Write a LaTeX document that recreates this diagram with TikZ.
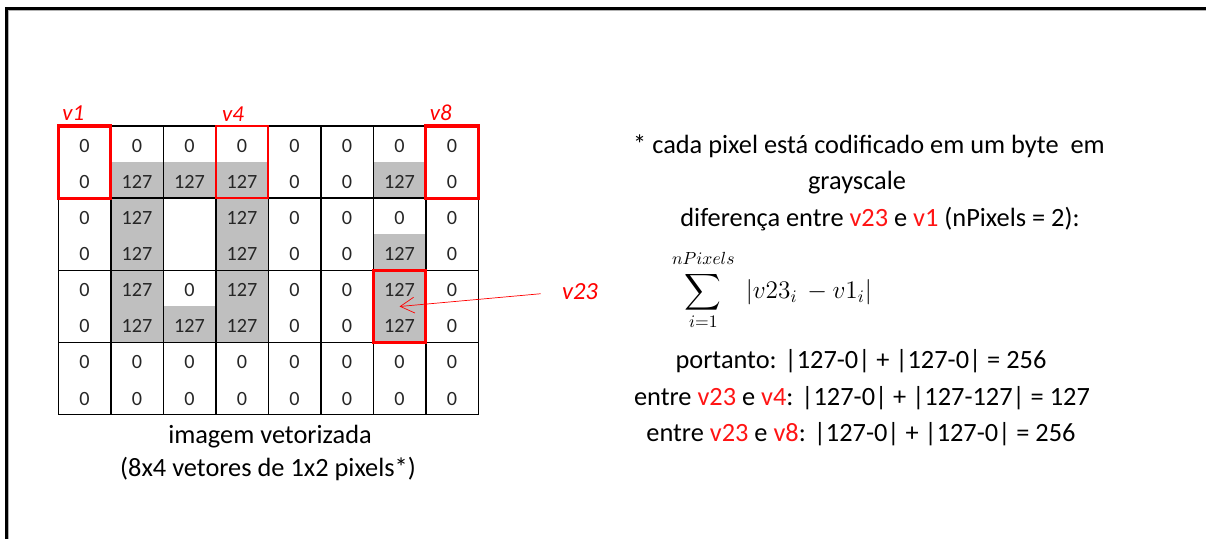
\documentclass[tikz,border=0pt]{standalone}
\usepackage{fontspec}
\setmainfont{Carlito}
\usetikzlibrary{arrows.meta}

\definecolor{cellgray}{RGB}{191,191,191}
\definecolor{txtred}{RGB}{255,20,20}

\newcommand{\bigsoma}{\mathop{\vcenter{\hbox{\scalebox{1.45}{$\displaystyle\sum$}}}}\limits}

\tikzset{
  num/.style={inner sep=0pt, text=black!85, font=\fontsize{11.5}{13}\selectfont},
  vbox/.style={draw=red, line width=1.8pt, minimum width=1.05cm, minimum height=1.444cm, inner sep=0pt},
  vlabel/.style={text=red, inner sep=1pt, anchor=south west, font=\fontsize{13}{15}\selectfont\itshape},
  txt/.style={inner sep=0pt, font=\fontsize{15}{18}\selectfont},
}

\begin{document}
\begin{tikzpicture}
  \useasboundingbox (0,0) rectangle (24.12,-10.78);

  % --- moldura ---
  \draw[gray!60, line width=0.7pt] (0.17,-10.78) -- (0.17,-0.21) -- (24.12,-0.21);
  \draw[line width=1.2pt] (0.13,-10.78) -- (0.13,-0.17) -- (24.12,-0.17);

  % --- imagem vetorizada (8x4 vetores de 1x2 pixels) ---
  \begin{scope}[shift={(1.166,-2.52)}, x=1.05cm, y=-0.722cm]
    % pixels com valor 127
    \foreach \c/\r in {1/1,2/1,3/1,6/1,1/2,3/2,1/3,3/3,6/3,1/4,3/4,6/4,1/5,2/5,3/5,6/5}
      \fill[cellgray] (\c,\r) rectangle ++(1,1);

    % grade
    \draw[line width=0.8pt] (0,0) rectangle (8,8);
    \foreach \r in {2,4,6}
      \draw[line width=0.8pt] (0,\r) -- (8,\r);
    \foreach \c in {1,...,7}
      \draw[line width=0.8pt] (\c,0) -- (\c,8);

    % valores
    \foreach \r/\vals in {0/{0,0,0,0,0,0,0,0},
                          1/{0,127,127,127,0,0,127,0},
                          2/{0,127,{},127,0,0,0,0},
                          3/{0,127,{},127,0,0,127,0},
                          4/{0,127,0,127,0,0,127,0},
                          5/{0,127,127,127,0,0,127,0},
                          6/{0,0,0,0,0,0,0,0},
                          7/{0,0,0,0,0,0,0,0}}
      \foreach \v [count=\c] in \vals
        \node[num] (px-\r-\c) at (\c-0.5,\r+0.55) {\v};

    % vetores destacados
    \node[vbox] (v1box) at (0.5,1) {};
    \node[vbox, line width=1.1pt] (v4box) at (3.5,1) {};
    \node[vbox] (v8box) at (7.5,1) {};
    \node[vbox] (v23box) at (6.5,5) {};
  \end{scope}

  \node[vlabel, xshift=2pt, yshift=1pt] (v1lbl) at (v1box.north west) {v1};
  \node[vlabel, xshift=3pt, yshift=1pt] (v4lbl) at (v4box.north west) {v4};
  \node[vlabel, xshift=2pt, yshift=1pt] (v8lbl) at (v8box.north west) {v8};
  \node[vlabel, anchor=center, font=\fontsize{14}{16}\selectfont\itshape] (v23lbl) at (11.6,-5.84) {v23};

  \draw[red, -{Straight Barb[length=8pt, width=9pt]}, shorten <=11pt] (v23lbl.west) -- (v23box.center);

  \node[txt] (caption1) at (5.40,-8.74) {imagem vetorizada};
  \node[txt] (caption2) at (5.36,-9.38) {(8x4 vetores de 1x2 pixels*)};

  % --- texto explicativo ---
  \node[txt] (note1) at (17.38,-2.92) {* cada pixel está codificado em um byte\ \ em};
  \node[txt] (note2) at (17.14,-3.66) {grayscale};
  \node[txt] (note3) at (17.60,-4.38) {diferença entre \textcolor{txtred}{v23} e \textcolor{txtred}{v1} (nPixels = 2):};
  \node[inner sep=0pt, font=\fontsize{14.5}{16}\selectfont] (soma) at (15.44,-5.80)
    {$\bigsoma_{i=1}^{nPixels\rule[-3pt]{0pt}{0pt}}\; |v23_i\, - v1_i|$};
  \node[txt] (res1) at (17.22,-7.22) {portanto: |127-0| + |127-0| = 256};
  \node[txt] (res2) at (17.24,-7.96) {entre \textcolor{txtred}{v23} e \textcolor{txtred}{v4}: |127-0| + |127-127| = 127};
  \node[txt] (res3) at (17.22,-8.68) {entre \textcolor{txtred}{v23} e \textcolor{txtred}{v8}: |127-0| + |127-0| = 256};

\end{tikzpicture}
\end{document}
